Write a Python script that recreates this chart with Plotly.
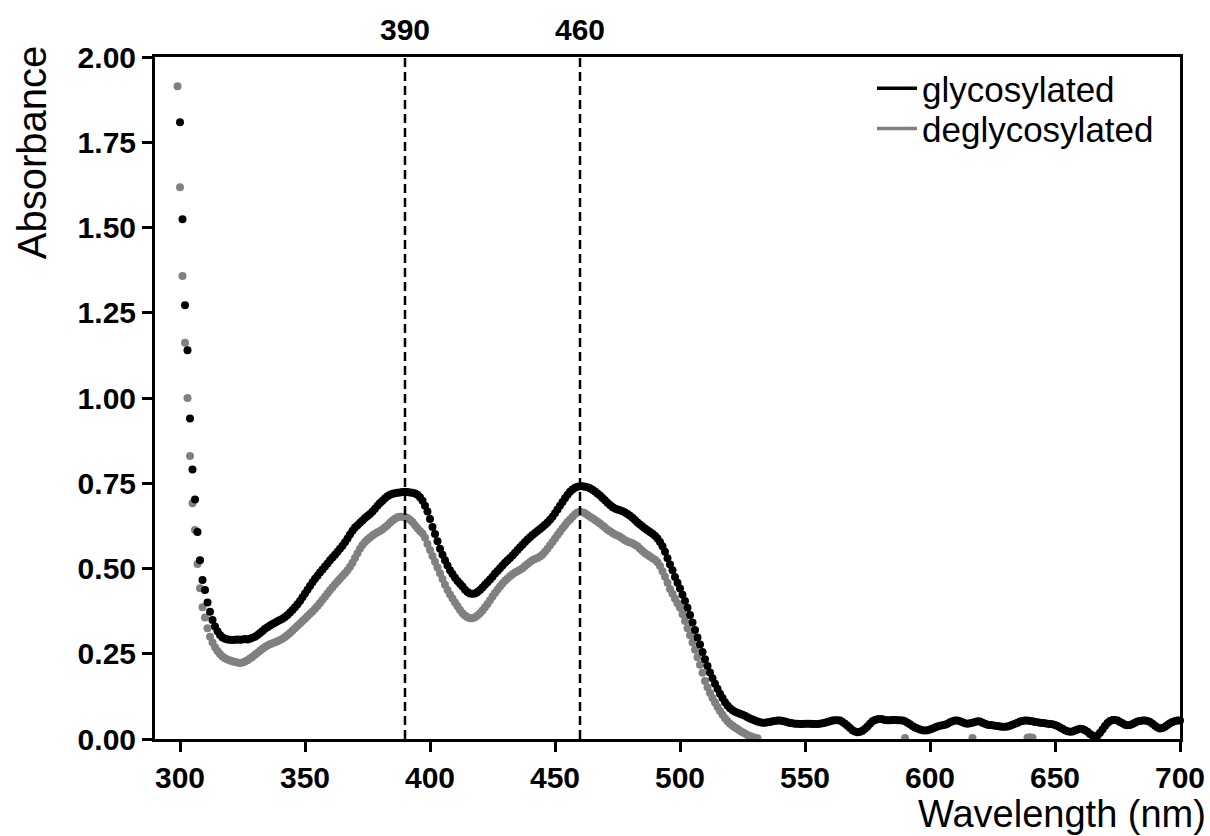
import plotly.graph_objects as go

# ---------------- data ----------------
wavelength_gly = list(range(300, 701))
absorbance_gly = [
    1.809, 1.524, 1.272, 1.140, 0.940, 0.790, 0.702, 0.607, 0.524, 0.466,
    0.437, 0.400, 0.373, 0.349, 0.330, 0.316, 0.305, 0.298, 0.294, 0.292,
    0.291, 0.290, 0.291, 0.292, 0.291, 0.292, 0.293, 0.292, 0.294, 0.297,
    0.300, 0.305, 0.311, 0.317, 0.323, 0.328, 0.333, 0.337, 0.341, 0.345,
    0.349, 0.353, 0.358, 0.364, 0.371, 0.378, 0.386, 0.395, 0.405, 0.416,
    0.427, 0.438, 0.449, 0.460, 0.470, 0.479, 0.488, 0.497, 0.506, 0.515,
    0.524, 0.532, 0.540, 0.549, 0.558, 0.567, 0.577, 0.588, 0.600, 0.611,
    0.620, 0.627, 0.634, 0.641, 0.648, 0.654, 0.660, 0.667, 0.675, 0.684,
    0.692, 0.699, 0.706, 0.712, 0.716, 0.719, 0.721, 0.722, 0.723, 0.724,
    0.724, 0.724, 0.723, 0.722, 0.720, 0.716, 0.709, 0.699, 0.684, 0.667,
    0.645, 0.622, 0.601, 0.580, 0.558, 0.540, 0.524, 0.509, 0.495, 0.484,
    0.473, 0.463, 0.455, 0.447, 0.438, 0.431, 0.427, 0.426, 0.427, 0.431,
    0.437, 0.444, 0.452, 0.460, 0.468, 0.476, 0.485, 0.493, 0.501, 0.509,
    0.517, 0.524, 0.531, 0.538, 0.546, 0.554, 0.562, 0.570, 0.578, 0.585,
    0.592, 0.598, 0.604, 0.610, 0.616, 0.622, 0.628, 0.635, 0.643, 0.652,
    0.662, 0.673, 0.684, 0.695, 0.706, 0.716, 0.725, 0.732, 0.737, 0.740,
    0.741, 0.741, 0.740, 0.738, 0.735, 0.731, 0.726, 0.720, 0.714, 0.707,
    0.700, 0.693, 0.686, 0.680, 0.676, 0.673, 0.671, 0.668, 0.664, 0.660,
    0.655, 0.649, 0.642, 0.635, 0.629, 0.623, 0.617, 0.612, 0.607, 0.602,
    0.596, 0.588, 0.578, 0.565, 0.549, 0.530, 0.512, 0.495, 0.475, 0.458,
    0.441, 0.423, 0.405, 0.385, 0.364, 0.342, 0.320, 0.298, 0.277, 0.255,
    0.234, 0.214, 0.195, 0.178, 0.162, 0.147, 0.133, 0.120, 0.108, 0.098,
    0.090, 0.084, 0.080, 0.077, 0.074, 0.071, 0.068, 0.064, 0.060, 0.057,
    0.054, 0.051, 0.049, 0.048, 0.048, 0.049, 0.050, 0.052, 0.053, 0.054,
    0.054, 0.053, 0.051, 0.049, 0.047, 0.046, 0.045, 0.045, 0.044, 0.044,
    0.045, 0.045, 0.045, 0.044, 0.044, 0.044, 0.045, 0.046, 0.048, 0.050,
    0.052, 0.054, 0.055, 0.055, 0.054, 0.050, 0.045, 0.039, 0.032, 0.026,
    0.022, 0.020, 0.021, 0.024, 0.030, 0.037, 0.045, 0.052, 0.056, 0.058,
    0.059, 0.058, 0.056, 0.055, 0.055, 0.056, 0.056, 0.055, 0.055, 0.054,
    0.052, 0.048, 0.043, 0.038, 0.034, 0.031, 0.028, 0.026, 0.025, 0.026,
    0.028, 0.031, 0.034, 0.037, 0.039, 0.040, 0.042, 0.045, 0.049, 0.052,
    0.054, 0.054, 0.052, 0.049, 0.046, 0.045, 0.046, 0.048, 0.050, 0.052,
    0.051, 0.048, 0.045, 0.042, 0.041, 0.040, 0.039, 0.038, 0.037, 0.036,
    0.036, 0.037, 0.039, 0.042, 0.045, 0.048, 0.051, 0.053, 0.054, 0.054,
    0.053, 0.052, 0.050, 0.049, 0.048, 0.047, 0.046, 0.045, 0.044, 0.043,
    0.041, 0.038, 0.034, 0.030, 0.026, 0.023, 0.021, 0.022, 0.025, 0.028,
    0.030, 0.029, 0.026, 0.021, 0.015, 0.010, 0.007, 0.010, 0.018, 0.028,
    0.038, 0.047, 0.053, 0.056, 0.056, 0.054, 0.050, 0.046, 0.042, 0.040,
    0.041, 0.044, 0.048, 0.051, 0.053, 0.054, 0.054, 0.053, 0.050, 0.045,
    0.039, 0.034, 0.031, 0.032, 0.036, 0.041, 0.046, 0.050, 0.053, 0.054,
    0.054,
]

# deglycosylated: points below zero are off-scale in the original; only visible ones kept
wavelength_degly = list(range(299, 532)) + [590, 617, 639, 640, 641]
absorbance_degly = [
    1.914,
    1.618, 1.358, 1.162, 1.000, 0.830, 0.691, 0.613, 0.513, 0.442, 0.386,
    0.356, 0.325, 0.300, 0.283, 0.269, 0.258, 0.249, 0.242, 0.237, 0.233,
    0.230, 0.228, 0.226, 0.224, 0.223, 0.224, 0.227, 0.231, 0.236, 0.241,
    0.247, 0.253, 0.259, 0.265, 0.270, 0.274, 0.278, 0.281, 0.284, 0.287,
    0.290, 0.294, 0.299, 0.305, 0.311, 0.318, 0.325, 0.332, 0.339, 0.346,
    0.353, 0.360, 0.367, 0.374, 0.382, 0.390, 0.399, 0.408, 0.417, 0.427,
    0.436, 0.445, 0.454, 0.462, 0.470, 0.478, 0.486, 0.495, 0.505, 0.517,
    0.531, 0.545, 0.558, 0.569, 0.578, 0.585, 0.591, 0.597, 0.602, 0.606,
    0.610, 0.615, 0.621, 0.627, 0.634, 0.641, 0.646, 0.650, 0.652, 0.652,
    0.651, 0.648, 0.643, 0.636, 0.627, 0.618, 0.610, 0.603, 0.590, 0.572,
    0.554, 0.537, 0.520, 0.503, 0.486, 0.469, 0.452, 0.437, 0.424, 0.412,
    0.400, 0.389, 0.378, 0.369, 0.362, 0.357, 0.354, 0.354, 0.357, 0.362,
    0.369, 0.377, 0.386, 0.396, 0.407, 0.418, 0.428, 0.438, 0.447, 0.456,
    0.464, 0.471, 0.477, 0.483, 0.488, 0.492, 0.496, 0.501, 0.507, 0.513,
    0.519, 0.524, 0.528, 0.531, 0.535, 0.541, 0.549, 0.558, 0.568, 0.578,
    0.588, 0.598, 0.608, 0.618, 0.627, 0.636, 0.644, 0.652, 0.659, 0.664,
    0.666, 0.665, 0.662, 0.657, 0.652, 0.647, 0.642, 0.637, 0.632, 0.626,
    0.620, 0.614, 0.609, 0.604, 0.600, 0.597, 0.593, 0.588, 0.583, 0.579,
    0.576, 0.574, 0.570, 0.565, 0.558, 0.551, 0.545, 0.540, 0.535, 0.530,
    0.526, 0.518, 0.507, 0.492, 0.476, 0.458, 0.440, 0.426, 0.411, 0.398,
    0.385, 0.366, 0.346, 0.325, 0.304, 0.283, 0.262, 0.240, 0.218, 0.194,
    0.170, 0.152, 0.135, 0.120, 0.107, 0.094, 0.082, 0.071, 0.061, 0.052,
    0.045, 0.039, 0.034, 0.029, 0.024, 0.020, 0.016, 0.012, 0.009, 0.006,
    0.004, 0.002,
    0.003, 0.003, 0.004, 0.005, 0.004,
]

x_tick_values = [300, 350, 400, 450, 500, 550, 600, 650, 700]
y_tick_values = [0.0, 0.25, 0.5, 0.75, 1.0, 1.25, 1.5, 1.75, 2.0]
y_tick_labels = ["0.00", "0.25", "0.50", "0.75", "1.00", "1.25", "1.50", "1.75", "2.00"]
peak_wavelengths = [390, 460]
series_names = ["glycosylated", "deglycosylated"]

BLACK = "#000000"
GRAY = "#808080"
FONT = "Liberation Sans, Arial, sans-serif"

fig = go.Figure()

fig.add_trace(go.Scatter(
    x=wavelength_degly, y=absorbance_degly, mode="markers",
    marker=dict(color=GRAY, size=8, line=dict(width=0)),
    showlegend=False, cliponaxis=False,
))
fig.add_trace(go.Scatter(
    x=wavelength_gly, y=absorbance_gly, mode="markers",
    marker=dict(color=BLACK, size=8, line=dict(width=0)),
    showlegend=False, cliponaxis=False,
))

# legend entries drawn as line segments, like the original
fig.add_trace(go.Scatter(x=[None], y=[None], mode="lines", legend="legend",
                         line=dict(color=BLACK, width=3.5), name=series_names[0]))
fig.add_trace(go.Scatter(x=[None], y=[None], mode="lines", legend="legend2",
                         line=dict(color=GRAY, width=3.5), name=series_names[1]))

for wl in peak_wavelengths:
    fig.add_shape(type="line", xref="x", yref="y", x0=wl, x1=wl, y0=0, y1=2.0,
                  line=dict(color=BLACK, width=2.5, dash="9px,5px"), layer="above")
    fig.add_annotation(x=wl, xref="x", y=1.0396, yref="paper", text=str(wl),
                       showarrow=False, xanchor="center", yanchor="middle",
                       font=dict(family=FONT, size=30, color=BLACK, weight="bold"))

fig.add_annotation(text="Absorbance", xref="paper", yref="paper",
                   x=-0.12, y=0.859, textangle=-90, showarrow=False,
                   xanchor="center", yanchor="middle",
                   font=dict(family=FONT, size=40, color=BLACK))
fig.add_annotation(text="Wavelength (nm)", xref="paper", yref="paper",
                   x=1.0264, y=-0.1422, showarrow=False, borderpad=0,
                   xanchor="right", yanchor="bottom",
                   font=dict(family=FONT, size=38, color=BLACK))

axis_common = dict(
    showline=True, linewidth=3, linecolor=BLACK, mirror=True,
    ticks="outside", ticklen=10, tickwidth=3, tickcolor=BLACK,
    showgrid=False, zeroline=False, automargin=False,
    tickfont=dict(family=FONT, size=30, color=BLACK, weight="bold"),
)

fig.update_xaxes(range=[290, 700], tickvals=x_tick_values, **axis_common)
fig.update_yaxes(range=[0, 2.0], tickvals=y_tick_values, ticktext=y_tick_labels, **axis_common)

legend_common = dict(
    xanchor="left", yanchor="top", bgcolor="rgba(0,0,0,0)", borderwidth=0,
    font=dict(family=FONT, size=35, color=BLACK), itemwidth=40,
)

fig.update_layout(
    width=1210, height=836,
    margin=dict(l=155, r=30, t=57, b=97, autoexpand=False),
    paper_bgcolor="white", plot_bgcolor="white",
    font=dict(family=FONT, color=BLACK),
    legend=dict(x=0.6995, y=0.997, **legend_common),
    legend2=dict(x=0.6995, y=0.938, **legend_common),
)

fig.write_html("out.html")
